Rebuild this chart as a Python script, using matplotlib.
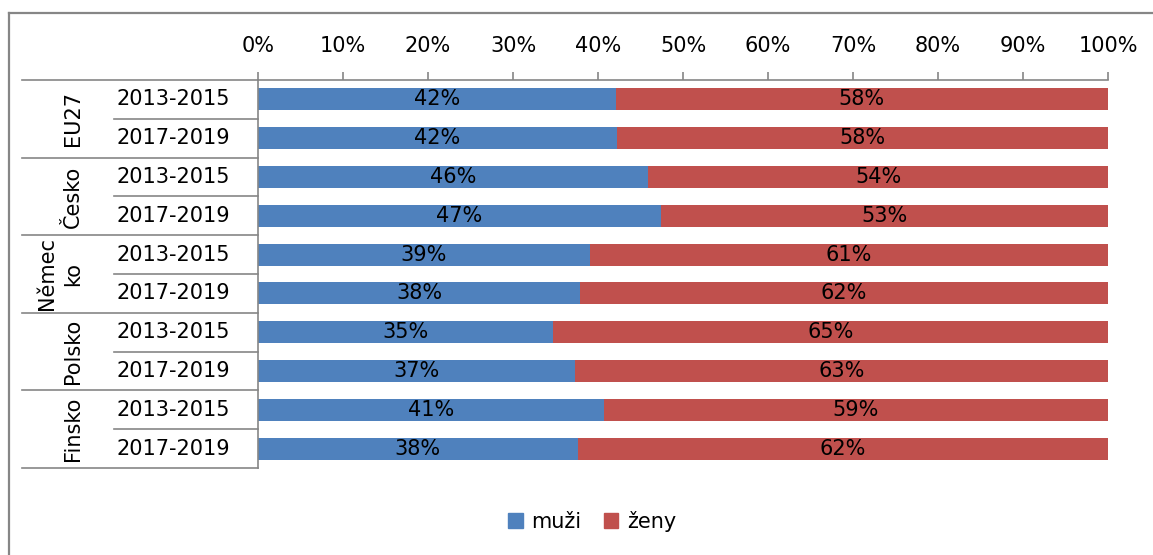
import matplotlib.pyplot as plt
import matplotlib.transforms as mtransforms
from matplotlib.patches import Patch
from matplotlib.lines import Line2D

# data (share of men / women, %)
groups = ["EU27", "Česko", "Němec\nko", "Polsko", "Finsko"]
periods = ["2013-2015", "2017-2019"]
muzi = [42.1, 42.2, 45.9, 47.4, 39.0, 37.9, 34.7, 37.3, 40.7, 37.6]
zeny = [100 - v for v in muzi]

blue = "#4F81BD"
red = "#C0504D"
grey = "#868686"
fs = 15

plt.rcParams['font.family'] = ['DejaVu Sans']

W, H = 1153, 555
fig = plt.figure(figsize=(W / 100, H / 100), dpi=100)
ax = fig.add_axes([258 / W, 1 - 468 / H, 850 / W, 388 / H])

rows = list(range(len(muzi)))
ax.barh(rows, muzi, height=0.57, color=blue)
ax.barh(rows, zeny, left=muzi, height=0.57, color=red)

# data labels centred in each segment
for i in rows:
    ax.text(muzi[i] / 2, i, f"{muzi[i]:.0f}%", ha='center', va='center', fontsize=fs)
    ax.text(muzi[i] + zeny[i] / 2, i, f"{zeny[i]:.0f}%", ha='center', va='center', fontsize=fs)

ax.set_xlim(0, 100)
ax.set_ylim(len(muzi) - 0.5, -0.5)
ax.set_xticks(range(0, 101, 10))
ax.set_xticklabels([f"{t}%" for t in range(0, 101, 10)])
ax.xaxis.tick_top()
ax.tick_params(axis='x', direction='out', length=6, width=1.2, color=grey,
               labelsize=fs, pad=11)
ax.set_yticks([])
for s in ['bottom', 'right']:
    ax.spines[s].set_visible(False)
for s in ['top', 'left']:
    ax.spines[s].set_color(grey)
    ax.spines[s].set_linewidth(1.2)

# category table on the left
trans = mtransforms.blended_transform_factory(ax.transAxes, ax.transData)
x_group = (22 - 258) / 850
x_sub = (114 - 258) / 850
x_year = (173 - 258) / 850
x_name = (83 - 258) / 850
n = len(periods)
for g, name in enumerate(groups):
    y0 = g * n - 0.5
    ax.add_line(Line2D([x_group, 0], [y0, y0], transform=trans, color=grey,
                       lw=1.2, clip_on=False))
    ax.text(x_name, g * n + (n - 1) / 2, name, transform=trans, rotation=90,
            ha='right', va='center', multialignment='center', linespacing=1.4,
            fontsize=fs)
    for k, p in enumerate(periods):
        r = g * n + k
        if k > 0:
            ax.add_line(Line2D([x_sub, 0], [r - 0.5, r - 0.5], transform=trans,
                               color=grey, lw=1.2, clip_on=False))
        ax.text(x_year, r, p, transform=trans, ha='center', va='center', fontsize=fs)
yb = len(muzi) - 0.5
ax.add_line(Line2D([x_group, 0], [yb, yb], transform=trans, color=grey,
                   lw=1.2, clip_on=False))

# legend
handles = [Patch(color=blue, label="muži"), Patch(color=red, label="ženy")]
fig.legend(handles=handles, loc='center', bbox_to_anchor=(592 / W, 1 - 521 / H),
           ncol=2, frameon=False, fontsize=fs, handlelength=0.7, handleheight=0.7,
           handletextpad=0.4, columnspacing=1.1)

# chart area border (only top and left visible in the crop)
fig.add_artist(Line2D([9 / W, 1], [1 - 13 / H, 1 - 13 / H], color=grey, lw=1.6))
fig.add_artist(Line2D([9 / W, 9 / W], [0, 1 - 13 / H], color=grey, lw=1.6))

fig.savefig("out.png", dpi=100)
